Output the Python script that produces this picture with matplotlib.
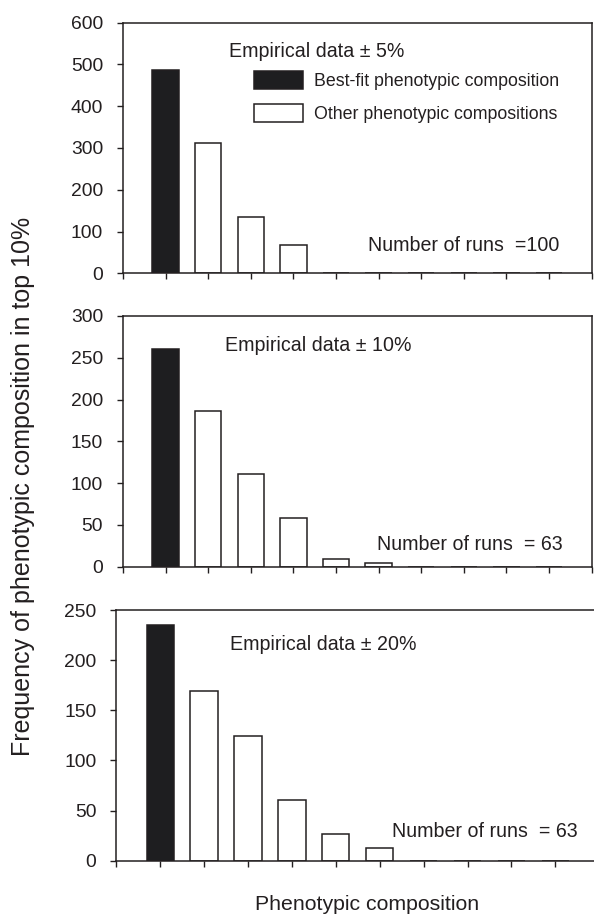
import numpy as np
import matplotlib
matplotlib.use('Agg')
import matplotlib.pyplot as plt
from matplotlib.patches import Patch

# 表型组合在前10%中出现的频数（三个误差范围）
compositions = np.arange(1, 11)
freq_5 = [486, 313, 135, 67, 0, 0, 0, 0, 0, 0]
freq_10 = [261, 186, 111, 58, 9, 4, 0, 0, 0, 0]
freq_20 = [235, 169, 124, 61, 27, 13, 0, 0, 0, 0]

panel_titles = ['Empirical data \u00b1 5%', 'Empirical data \u00b1 10%', 'Empirical data \u00b1 20%']
run_labels = ['Number of runs  =100', 'Number of runs  = 63', 'Number of runs  = 63']
y_limits = [600, 300, 250]
y_steps = [100, 50, 50]
legend_labels = ['Best-fit phenotypic composition', 'Other phenotypic compositions']

ink = '#231f20'
plt.rcParams['font.family'] = ['Liberation Sans', 'DejaVu Sans']
plt.rcParams['text.color'] = ink
plt.rcParams['axes.edgecolor'] = ink
plt.rcParams['xtick.color'] = ink
plt.rcParams['ytick.color'] = ink

fig = plt.figure(figsize=(5.94, 9.14), dpi=100)

# 各子图位置 [left, bottom, width, height]
boxes = [[0.2071, 0.7010, 0.7890, 0.2742],
         [0.2071, 0.3800, 0.7890, 0.2743],
         [0.1958, 0.0583, 0.8130, 0.2743]]
title_pos = [(0.227, 0.864), (0.2177, 0.8588), (0.2354, 0.8424)]
runs_pos = [(0.5228, 0.087), (0.5416, 0.0658), (0.5708, 0.0957)]

series = [freq_5, freq_10, freq_20]
for i in range(3):
    ax = fig.add_axes(boxes[i])
    colors = ['#1e1e20'] + ['white'] * (len(compositions) - 1)
    ax.bar(compositions, series[i], width=0.62, color=colors,
           edgecolor=ink, linewidth=1.1, zorder=2)
    ax.set_xlim(0, 11)
    ax.set_ylim(0, y_limits[i])
    ax.set_xticks(np.arange(0, 12))
    ax.set_xticklabels([])
    ax.set_yticks(np.arange(0, y_limits[i] + 1, y_steps[i]))
    ax.tick_params(axis='both', direction='out', length=4.3, width=1.0,
                   labelsize=13.9, pad=10)
    for sp in ax.spines.values():
        sp.set_linewidth(1.1)
    ax.text(title_pos[i][0], title_pos[i][1], panel_titles[i], transform=ax.transAxes,
            fontsize=14.1, va='baseline', ha='left')
    ax.text(runs_pos[i][0], runs_pos[i][1], run_labels[i], transform=ax.transAxes,
            fontsize=14.1, va='baseline', ha='left')
    if i == 0:
        handles = [Patch(facecolor='#1e1e20', edgecolor=ink, linewidth=1.1),
                   Patch(facecolor='white', edgecolor=ink, linewidth=1.1)]
        ax.legend(handles, legend_labels, loc='upper left',
                  bbox_to_anchor=(0.2796, 0.8073), frameon=False, fontsize=12.8,
                  handlelength=2.77, handleheight=1.17, handletextpad=0.6,
                  labelspacing=0.82, borderpad=0, borderaxespad=0)

fig.text(0.038, 0.468, 'Frequency of phenotypic composition in top 10%',
         rotation=90, ha='center', va='center', fontsize=18.0)
fig.text(0.618, 0.0044, 'Phenotypic composition', ha='center', va='baseline',
         fontsize=15.3)

fig.savefig('out.png', dpi=100)
